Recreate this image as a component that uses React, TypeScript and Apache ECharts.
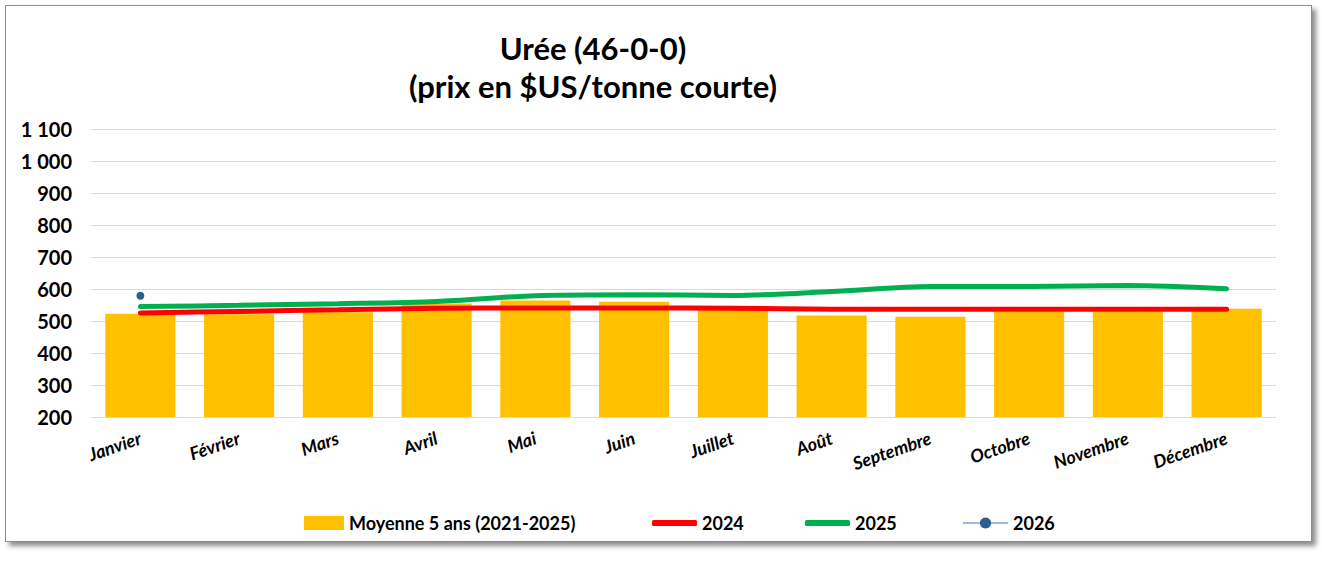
import React, { useEffect, useRef } from "react";
import * as echarts from "echarts";

const months = ["Janvier", "Février", "Mars", "Avril", "Mai", "Juin", "Juillet", "Août", "Septembre", "Octobre", "Novembre", "Décembre"];
const avg5 = [523, 521, 527, 555, 564, 560, 538, 517, 513, 530, 530, 538];
const y2024 = [525, 530, 535, 540, 541, 541, 540, 537, 537, 537, 537, 537];
const y2025 = [545, 549, 554, 561, 579, 582, 580, 592, 608, 608, 611, 601];
const y2026: (number | null)[] = [579, null, null, null, null, null, null, null, null, null, null, null];
const yTicks = { min: 200, max: 1100, interval: 100 };

const FONT = "Lato, 'Open Sans', sans-serif";

export default function App() {
  const ref = useRef<HTMLDivElement>(null);
  useEffect(() => {
    if (!ref.current) return;
    const chart = echarts.init(ref.current, null, { renderer: "svg" });
    const legendText = { fontFamily: FONT, fontWeight: "bold" as const, fontSize: 18, color: "#000" };
    chart.setOption({
      animation: false,
      textStyle: { fontFamily: FONT },
      title: {
        text: "Urée (46-0-0)\n(prix en $US/tonne courte)",
        left: 582,
        top: 18,
        textAlign: "center",
        textStyle: { fontFamily: FONT, fontWeight: "bold", fontSize: 31, lineHeight: 38, color: "#000" },
      },
      grid: { left: 85, right: 35, top: 123, bottom: 124 },
      legend: [
        { data: ["Moyenne 5 ans (2021-2025)"], left: 293, top: 503, itemWidth: 40, itemHeight: 14, itemGap: 4, textStyle: legendText, icon: "rect" },
        { data: ["2024"], left: 641, top: 503, itemWidth: 45, itemHeight: 6, itemGap: 4, textStyle: legendText, icon: "roundRect" },
        { data: ["2025"], left: 794, top: 503, itemWidth: 45, itemHeight: 6, itemGap: 4, textStyle: legendText, icon: "roundRect" },
        { data: ["2026"], left: 951, top: 503, itemWidth: 45, itemHeight: 14, itemGap: 4, textStyle: legendText },
      ],
      xAxis: {
        type: "category",
        data: months,
        axisLine: { show: false },
        axisTick: { show: false },
        axisLabel: { rotate: 19, margin: 20, fontFamily: FONT, fontStyle: "italic", fontWeight: "bold", fontSize: 18, color: "#000", interval: 0 },
      },
      yAxis: {
        type: "value",
        min: yTicks.min,
        max: yTicks.max,
        interval: yTicks.interval,
        axisLine: { show: false },
        axisTick: { show: false },
        splitLine: { lineStyle: { color: "#d9d9d9", width: 1 } },
        axisLabel: {
          margin: 19,
          fontFamily: FONT,
          fontWeight: "bold",
          fontSize: 20,
          color: "#000",
          formatter: (v: number) => (v >= 1000 ? Math.floor(v / 1000) + " " + String(v % 1000).padStart(3, "0") : String(v)),
        },
      },
      series: [
        { name: "Moyenne 5 ans (2021-2025)", type: "bar", data: avg5, barCategoryGap: "29%", itemStyle: { color: "#FFC000" } },
        { name: "2024", type: "line", data: y2024, smooth: 0.3, symbol: "none", lineStyle: { color: "#FF0000", width: 5, cap: "round" }, itemStyle: { color: "#FF0000" } },
        { name: "2025", type: "line", data: y2025, smooth: 0.3, symbol: "none", lineStyle: { color: "#00B050", width: 5, cap: "round" }, itemStyle: { color: "#00B050" } },
        { name: "2026", type: "line", data: y2026, symbol: "circle", symbolSize: 8, showSymbol: true, lineStyle: { color: "#9DB8D9", width: 2 }, itemStyle: { color: "#2A5F94" } },
      ],
    });
    return () => chart.dispose();
  }, []);
  return (
    <div
      style={{
        position: "absolute",
        left: 5,
        top: 5,
        width: 1305,
        height: 535,
        border: "1px solid #8c8c8c",
        boxShadow: "4px 4px 5px rgba(0,0,0,0.45)",
        background: "#fff",
      }}
    >
      <div ref={ref} style={{ width: 1305, height: 535 }} />
    </div>
  );
}
